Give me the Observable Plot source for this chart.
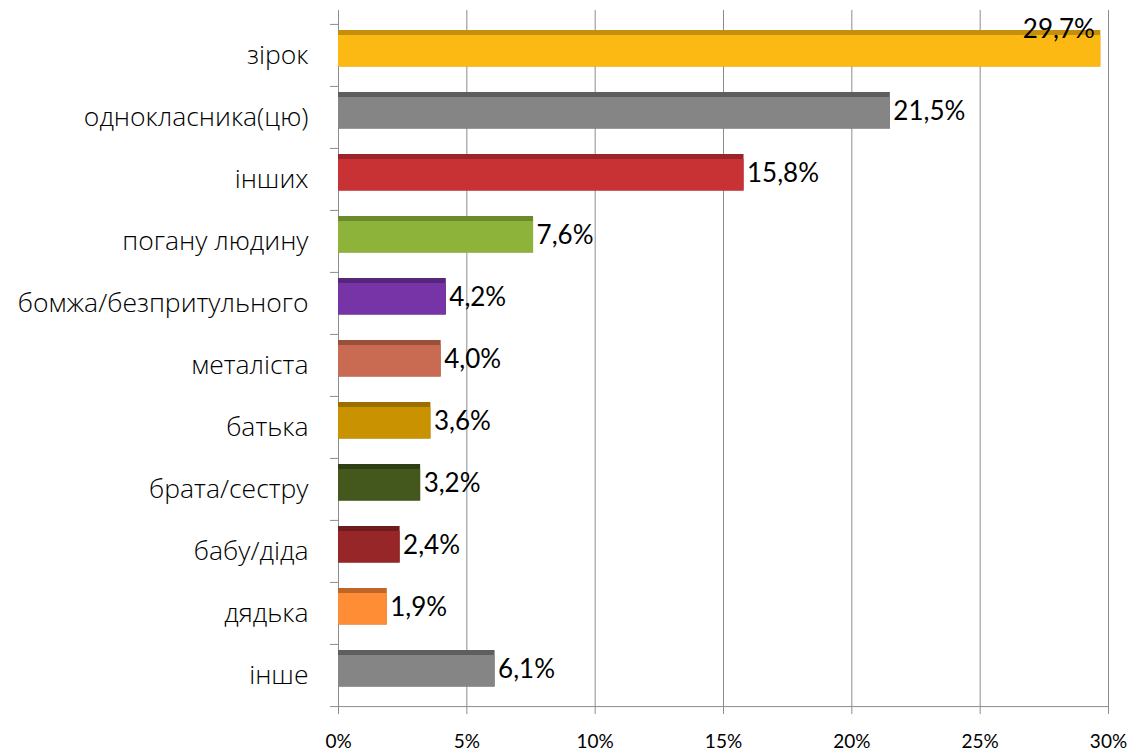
<!DOCTYPE html>
<html>
<head>
<meta charset="utf-8">
<script src="https://cdn.jsdelivr.net/npm/d3@7"></script>
<script src="https://cdn.jsdelivr.net/npm/@observablehq/plot@0.6"></script>
<style>
  html, body { margin: 0; padding: 0; background: #fff; }
  #chart svg { display: block; }
</style>
</head>
<body>
<div id="chart"></div>
<script>
const categories = ["зірок", "однокласника(цю)", "інших", "погану людину", "бомжа/безпритульного", "металіста", "батька", "брата/сестру", "бабу/діда", "дядька", "інше"];
const values = [29.7, 21.5, 15.8, 7.6, 4.2, 4.0, 3.6, 3.2, 2.4, 1.9, 6.1];
const labels = ["29,7%", "21,5%", "15,8%", "7,6%", "4,2%", "4,0%", "3,6%", "3,2%", "2,4%", "1,9%", "6,1%"];
const mainColors = ["#FDB913", "#858585", "#C93235", "#8DB33A", "#7634A6", "#C86B52", "#C99200", "#44581D", "#962628", "#FF8D36", "#858585"];
const topColors = ["#C48F0B", "#5E5E5E", "#9C2428", "#6B8A2C", "#57267B", "#9A4F3B", "#9A6F00", "#2F3E14", "#6F1A1C", "#C0652A", "#5E5E5E"];
const xTicks = [0, 5, 10, 15, 20, 25, 30];

const data = categories.map((c, i) => ({cat: c, v: values[i], label: labels[i], main: mainColors[i], top: topColors[i]}));
const maxV = d3.max(values);
const yTop = 23, yBottom = 707;
const step = (yBottom - yTop) / categories.length;

const plot = Plot.plot({
  width: 1131,
  height: 754,
  marginLeft: 338,
  marginRight: 23,
  marginTop: 10,
  marginBottom: 47,
  style: {background: "#fff"},
  x: {domain: [0, 30], range: [338, 1108]},
  y: {domain: categories, range: [yTop, yBottom], padding: 0},
  marks: [
    Plot.ruleX(xTicks.slice(1), {stroke: "#8c8c8c", strokeWidth: 1}),
    Plot.ruleX([0], {stroke: "#8c8c8c", strokeWidth: 1}),
    Plot.ruleY(categories, {y: d => d, x1: 0, x2: 0, insetLeft: -8, dy: -step / 2, stroke: "#8c8c8c"}),
    Plot.ruleY([categories[categories.length - 1]], {y: d => d, x1: 0, x2: 0, insetLeft: -8, dy: step / 2, stroke: "#8c8c8c"}),
    Plot.ruleY([categories[categories.length - 1]], {y: d => d, x1: 0, x2: 30, dy: step / 2, stroke: "#8c8c8c"}),
    Plot.barX(data, {y: "cat", x: "v", fill: "top", insetTop: 6, insetBottom: 19.5}),
    Plot.barX(data, {y: "cat", x: "v", fill: "main", insetTop: 11, insetBottom: 19.5}),
    Plot.text(data.filter(d => d.v !== maxV), {y: "cat", x: "v", text: "label", textAnchor: "start", dx: 3, dy: -6, fill: "#000", fontSize: 26, fontFamily: "Lato"}),
    Plot.text(data.filter(d => d.v === maxV), {y: "cat", x: "v", text: "label", textAnchor: "end", dx: -6, dy: -26, fill: "#000", fontSize: 26, fontFamily: "Lato"}),
    Plot.axisY({tickSize: 0, tickPadding: 30, fontSize: 26.5, fontWeight: 300, fontFamily: "Open Sans", fill: "#000", label: null}),
    Plot.axisX(xTicks, {tickSize: 7, tickPadding: 20, stroke: "#8c8c8c", fontSize: 19, fontFamily: "Lato", fill: "#000", tickFormat: d => d + "%", label: null})
  ]
});
plot.querySelectorAll("text").forEach(t => t.style.fill = "#000");
document.getElementById("chart").appendChild(plot);
</script>
</body>
</html>
